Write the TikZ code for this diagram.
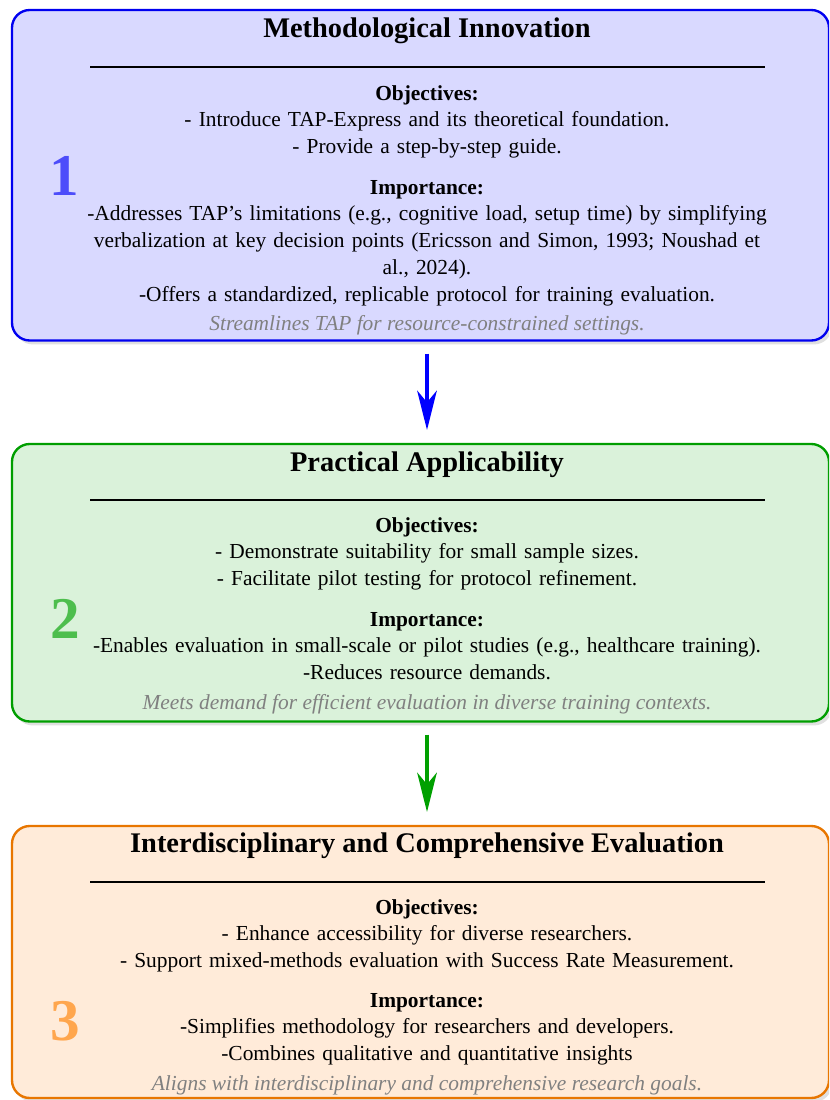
\documentclass[tikz,border=0pt]{standalone}
\usepackage{fontspec}
\setmainfont{Liberation Serif}
\usetikzlibrary{arrows.meta,fit,shadows}

\definecolor{edgeA}{RGB}{0,0,240}
\definecolor{fillA}{RGB}{217,217,255}
\definecolor{numA}{RGB}{77,77,250}
\definecolor{edgeB}{RGB}{0,158,0}
\definecolor{fillB}{RGB}{218,242,218}
\definecolor{numB}{RGB}{77,190,77}
\definecolor{edgeC}{RGB}{232,118,0}
\definecolor{fillC}{RGB}{255,235,217}
\definecolor{numC}{RGB}{255,166,77}
\definecolor{arrowA}{RGB}{0,0,255}
\definecolor{arrowB}{RGB}{0,160,0}

\begin{document}
\begin{tikzpicture}[x=0.507pt,y=-0.507pt,
  card/.style args={#1/#2}{draw=#1, fill=#2, line width=1.2pt,
    rounded corners=9pt, inner sep=0pt,
    drop shadow={shadow xshift=1.5pt,shadow yshift=-2pt,fill=black!12,opacity=1}},
  heading/.style={anchor=base, inner sep=0pt,
    font=\fontsize{14.4pt}{18pt}\selectfont\bfseries},
  body/.style={anchor=base, inner sep=0pt, text width=370pt, align=center,
    font=\fontsize{10.85pt}{13.6pt}\selectfont},
  note/.style={anchor=base, inner sep=0pt, text=gray,
    font=\fontsize{10.85pt}{13.6pt}\selectfont\itshape},
  bignum/.style={anchor=base, inner sep=0pt, text=#1,
    font=\fontsize{30pt}{36pt}\selectfont\bfseries},
  rulebar/.style={line width=1pt},
  flow/.style={draw=#1, line width=1.8pt, shorten <=6pt, shorten >=6.5pt,
    -{Stealth[length=20pt,width=10pt,inset=6pt]}}
]
\clip (0,0) rectangle (829,1100);

% ---- stage 1 ----
\node[card=edgeA/fillA, fit={(12,10) (829,340.5)}] (box1) {};
\node[heading] (t1) at (427,38) {Methodological Innovation};
\draw[rulebar] (90,67) -- (765,67);
\node[body] (o1) at (427,100) {\textbf{Objectives:}\\
  - Introduce TAP-Express and its theoretical foundation.\\
  - Provide a step-by-step guide.};
\node[body] (i1) at (427,194) {\textbf{Importance:}\\
  -Addresses TAP’s limitations (e.g., cognitive load, setup time) by simplifying\\
  verbalization at key decision points (Ericsson and Simon, 1993; Noushad et\\
  al., 2024).\\
  -Offers a standardized, replicable protocol for training evaluation.};
\node[note] (n1) at (427,330) {Streamlines TAP for resource-constrained settings.};
\node[bignum=numA] (k1) at (64.5,195) {1};

% ---- stage 2 ----
\node[card=edgeB/fillB, fit={(12,444) (829,721.5)}] (box2) {};
\node[heading] (t2) at (427,471) {Practical Applicability};
\draw[rulebar] (90,500) -- (765,500);
\node[body] (o2) at (427,532) {\textbf{Objectives:}\\
  - Demonstrate suitability for small sample sizes.\\
  - Facilitate pilot testing for protocol refinement.};
\node[body] (i2) at (427,626) {\textbf{Importance:}\\
  -Enables evaluation in small-scale or pilot studies (e.g., healthcare training).\\
  -Reduces resource demands.};
\node[note] (n2) at (427,709) {Meets demand for efficient evaluation in diverse training contexts.};
\node[bignum=numB] (k2) at (65,638) {2};

% ---- stage 3 ----
\node[card=edgeC/fillC, fit={(12,826) (829,1098)}] (box3) {};
\node[heading] (t3) at (427,852) {Interdisciplinary and Comprehensive Evaluation};
\draw[rulebar] (90,882) -- (765,882);
\node[body] (o3) at (427,914) {\textbf{Objectives:}\\
  - Enhance accessibility for diverse researchers.\\
  - Support mixed-methods evaluation with Success Rate Measurement.};
\node[body] (i3) at (427,1007) {\textbf{Importance:}\\
  -Simplifies methodology for researchers and developers.\\
  -Combines qualitative and quantitative insights};
\node[note] (n3) at (427,1090) {Aligns with interdisciplinary and comprehensive research goals.};
\node[bignum=numC] (k3) at (65,1040) {3};

% ---- flow between stages ----
\draw[flow=arrowA] (box1.south -| t1) -- (box2.north -| t2);
\draw[flow=arrowB] (box2.south -| t2) -- (box3.north -| t3);
\end{tikzpicture}
\end{document}
